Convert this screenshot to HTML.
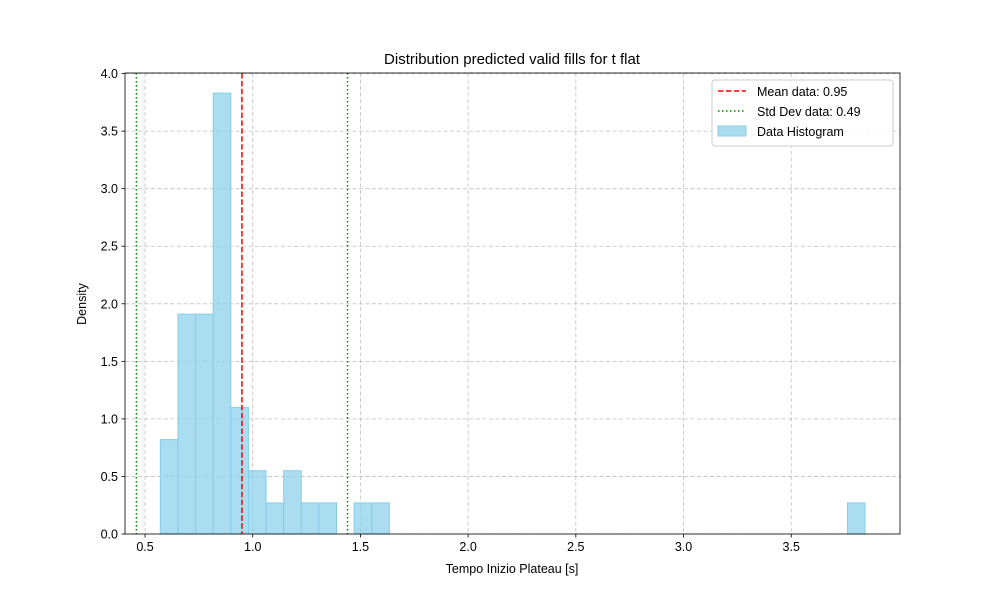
<!DOCTYPE html>
<html><head><meta charset="utf-8"><style>
body{margin:0;background:#fff;font-family:"Liberation Sans","DejaVu Sans",sans-serif}
</style></head><body>
<svg id="c" width="1000" height="600" xmlns="http://www.w3.org/2000/svg" font-family="Liberation Sans, DejaVu Sans, sans-serif"></svg>
<script>
const binStart = 0.571;
const binWidth = 0.0818;
const densities = [0.82,1.91,1.91,3.83,1.10,0.55,0.27,0.55,0.27,0.27,0,0.27,0.27,0,0,0,0,0,0,0,0,0,0,0,0,0,0,0,0,0,0,0,0,0,0,0,0,0,0,0.27];
const meanVal = 0.95;
const stdVal = 0.49;
const xTicks = [0.5,1.0,1.5,2.0,2.5,3.0,3.5];
const xTickLabels = ["0.5","1.0","1.5","2.0","2.5","3.0","3.5"];
const yTicks = [0,0.5,1,1.5,2,2.5,3,3.5,4];
const yTickLabels = ["0.0","0.5","1.0","1.5","2.0","2.5","3.0","3.5","4.0"];

const L=125,R=900,T=73,B=534;
const xmin=0.407,xmax=4.005,ymin=0,ymax=4.005;
const X=v=>L+(v-xmin)/(xmax-xmin)*(R-L);
const Y=v=>B-(v-ymin)/(ymax-ymin)*(B-T);
const svg=document.getElementById('c');
const NS='http://www.w3.org/2000/svg';
function mk(tag,attrs,parent){const e=document.createElementNS(NS,tag);for(const k in attrs)e.setAttribute(k,attrs[k]);(parent||svg).appendChild(e);return e;}

// grid
xTicks.forEach(t=>{const g=mk('line',{x1:X(t),x2:X(t),y1:T,y2:B,stroke:'#b0b0b0','stroke-width':0.8,'stroke-dasharray':'4,2.5',opacity:0.8});

});
yTicks.forEach(t=>{const g=mk('line',{x1:L,x2:R,y1:Y(t),y2:Y(t),stroke:'#b0b0b0','stroke-width':0.8,'stroke-dasharray':'4,2.5',opacity:0.8});

});

// bars
densities.forEach((d,i)=>{if(d<=0)return;const x0=X(binStart+i*binWidth),x1=X(binStart+(i+1)*binWidth);
const r=mk('rect',{x:x0,y:Y(d),width:x1-x0,height:Y(0)-Y(d),fill:'#87ceeb','fill-opacity':0.7,stroke:'#87ceeb','stroke-width':1});

});

// lines
const ml=mk('line',{x1:X(meanVal),x2:X(meanVal),y1:T,y2:B,stroke:'#ff0000','stroke-width':1.5,'stroke-dasharray':'5.5,2.4'});


[meanVal-stdVal,meanVal+stdVal].forEach(v=>{const s=mk('line',{x1:X(v),x2:X(v),y1:T,y2:B,stroke:'#008000','stroke-width':1.5,'stroke-dasharray':'1.5,2.5'});

});

// axes frame
const fr=mk('rect',{x:L,y:T,width:R-L,height:B-T,fill:'none',stroke:'#000','stroke-width':0.8});



xTicks.forEach((t,i)=>{mk('line',{x1:X(t),x2:X(t),y1:B,y2:B+3.5,stroke:'#000','stroke-width':0.8});
const tx=mk('text',{x:X(t),y:B+17,'font-size':12.5,'text-anchor':'middle'});tx.textContent=xTickLabels[i];

});
yTicks.forEach((t,i)=>{mk('line',{x1:L-3.5,x2:L,y1:Y(t),y2:Y(t),stroke:'#000','stroke-width':0.8});
const tx=mk('text',{x:L-7,y:Y(t)+4.5,'font-size':12.5,'text-anchor':'end'});tx.textContent=yTickLabels[i];

});

const ti=mk('text',{x:512,y:64,'font-size':15,'text-anchor':'middle'});ti.textContent='Distribution predicted valid fills for t flat';


const xl=mk('text',{x:512,y:573,'font-size':12.5,'text-anchor':'middle'});xl.textContent='Tempo Inizio Plateau [s]';


const yl=mk('text',{x:86,y:304,'font-size':12.5,'text-anchor':'middle',transform:'rotate(-90 86 304)'});yl.textContent='Density';



// legend
const lg=mk('g',{});


mk('rect',{x:712,y:80,width:181,height:66,rx:3,fill:'#fff','fill-opacity':0.8,stroke:'#cccccc','stroke-width':1},lg);
mk('line',{x1:718,x2:746,y1:91,y2:91,stroke:'#ff0000','stroke-width':1.5,'stroke-dasharray':'5.5,2.4'},lg);
mk('line',{x1:718,x2:746,y1:111,y2:111,stroke:'#008000','stroke-width':1.5,'stroke-dasharray':'1.5,2.5'},lg);
mk('rect',{x:718,y:126,width:28,height:10,fill:'#87ceeb','fill-opacity':0.7,stroke:'#87ceeb'},lg);
[['Mean data: 0.95',96],['Std Dev data: 0.49',116],['Data Histogram',136]].forEach(([s,y])=>{const t=mk('text',{x:757,y:y,'font-size':12.5},lg);t.textContent=s;

});
</script>
</body></html>
